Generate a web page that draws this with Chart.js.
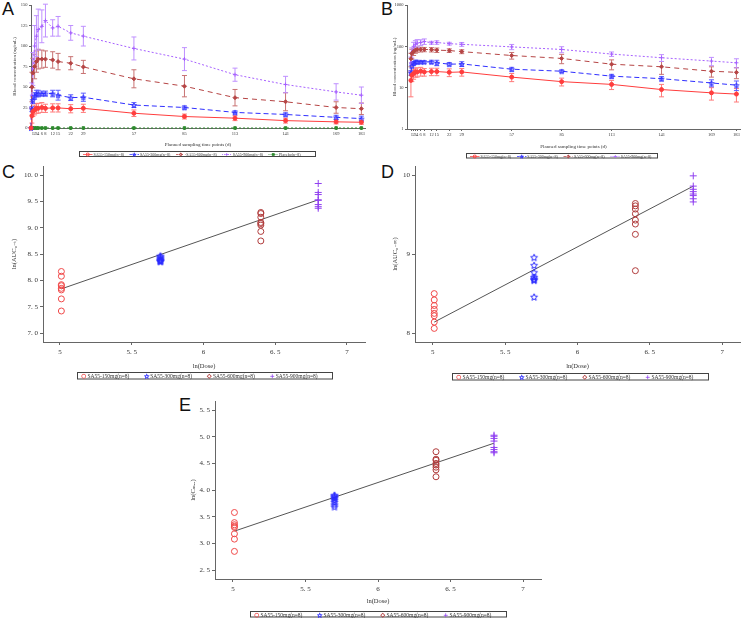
<!DOCTYPE html>
<html lang="en">
<head>
<meta charset="UTF-8">
<title>SA55 pharmacokinetics</title>
<style>
  body { margin: 0; background: #fff; width: 745px; height: 618px; position: relative; overflow: hidden; }
  canvas.chart { position: absolute; }
  .tag { position: absolute; font-family: 'Liberation Sans', Arial, sans-serif; font-size: 18px; line-height: 1; color: #111; }
  .legend {
    position: absolute; transform: scale(0.5); transform-origin: 0 0;
    border: 2px solid #444; box-sizing: border-box; display: grid; align-items: center;
    font-family: 'Liberation Serif', serif; color: #333; white-space: nowrap; padding-left: 6px;
  }
  .legend span { display: flex; align-items: center; gap: 2px; }
</style>
<script src="https://cdn.jsdelivr.net/npm/chart.js"></script>
</head>
<body>
<div class="tag" style="left:2px;top:0px">A</div>
<div class="tag" style="left:381px;top:0px">B</div>
<div class="tag" style="left:2px;top:163px">C</div>
<div class="tag" style="left:381px;top:163px">D</div>
<div class="tag" style="left:179px;top:396px">E</div>

<canvas class="chart" id="chartA" width="372" height="148" style="left:0;top:0"></canvas>
<canvas class="chart" id="chartB" width="373" height="150" style="left:372px;top:0"></canvas>
<canvas class="chart" id="chartC" width="372" height="210" style="left:0;top:160px"></canvas>
<canvas class="chart" id="chartD" width="373" height="210" style="left:372px;top:160px"></canvas>
<canvas class="chart" id="chartE" width="400" height="210" style="left:150px;top:395px"></canvas>

<div class="legend" id="legA" style="left:79px;top:151px;width:474px;height:12px;font-size:8px;grid-template-columns:repeat(5,1fr)"></div>
<div class="legend" id="legB" style="left:466px;top:153px;width:384px;height:11px;font-size:8px;grid-template-columns:repeat(4,1fr)"></div>
<div class="legend" id="legC" style="left:77px;top:372px;width:512px;height:15px;font-size:11px;grid-template-columns:repeat(4,1fr)"></div>
<div class="legend" id="legD" style="left:452px;top:373px;width:514px;height:15px;font-size:11px;grid-template-columns:repeat(4,1fr)"></div>
<div class="legend" id="legE" style="left:250px;top:611px;width:514px;height:13px;font-size:11px;grid-template-columns:repeat(4,1fr)"></div>

<script>
// ---- data: time courses (panels A, B) ----
const days = [0, 0.5, 1, 2, 3, 4, 6, 8, 12, 15, 22, 29, 57, 85, 113, 141, 169, 183];
const dayTicks = [1, 2, 3, 4, 6, 8, 12, 15, 22, 29, 57, 85, 113, 141, 169, 183];
const conc150 = [0, 15, 20, 22, 24, 24, 25, 24, 24.5, 24.5, 23.5, 24, 18, 14, 12, 9, 7.5, 7];
const sd150 = [0, 9, 6, 6, 6, 6, 6, 5, 5, 5, 5, 5, 4, 3, 3, 3, 2.5, 2.5];
const conc300 = [0, 23, 34, 39, 42, 42, 42, 42, 42, 40, 37, 37.5, 28, 25, 19, 16.5, 13, 11.5];
const sd300 = [0, 3, 4, 4, 4, 4, 3, 3, 4, 6, 3.5, 5, 3, 2, 2, 2, 2.5, 3];
const conc600 = [0, 50, 67, 75, 81, 84, 84, 84, 83, 81, 79, 74.5, 60, 51, 37, 32, 25, 23.5];
const sd600 = [0, 18, 18, 15, 13, 12, 11, 10, 10, 10, 8, 8, 11, 13, 10, 11, 7, 7];
const conc900 = [0, 40, 72, 100, 112, 120, 124, 131, 122, 124, 116, 112, 97, 84, 65, 53, 44, 40];
const sd900 = [0, 15, 20, 25, 25, 25, 20, 20, 10, 12, 9, 12, 14, 14, 8, 10, 10, 10];
const concPlacebo = [0, 0, 0, 0, 0, 0, 0, 0, 0, 0, 0, 0, 0, 0, 0, 0, 0, 0];
const linTicks = [0, 25, 50, 75, 100, 125, 150];
const logTicks = [1, 10, 100, 1000];

// ---- data: dose proportionality (panels C, D, E) ----
const lnDose = [5.01, 5.70, 6.40, 6.80];
const doseTicks = [5, 5.5, 6, 6.5, 7];
const aucT150 = [8.17, 8.08, 7.92, 7.90, 7.85, 7.82, 7.65, 7.42];
const aucT300 = [8.47, 8.45, 8.43, 8.41, 8.39, 8.38, 8.37, 8.36];
const aucT600 = [9.29, 9.27, 9.20, 9.10, 9.08, 9.05, 8.93, 8.75];
const aucT900 = [9.84, 9.67, 9.63, 9.53, 9.52, 9.44, 9.40, 9.37];
const aucInf150 = [8.50, 8.42, 8.35, 8.30, 8.25, 8.22, 8.14, 8.06];
const aucInf300 = [8.96, 8.86, 8.77, 8.71, 8.69, 8.68, 8.67, 8.46];
const aucInf600 = [9.64, 9.61, 9.57, 9.51, 9.43, 9.38, 9.25, 8.79];
const aucInf900 = [9.99, 9.86, 9.82, 9.79, 9.76, 9.74, 9.70, 9.66];
const cmax150 = [3.58, 3.39, 3.35, 3.32, 3.30, 3.18, 3.08, 2.85];
const cmax300 = [3.91, 3.89, 3.87, 3.85, 3.82, 3.78, 3.73, 3.69];
const cmax600 = [4.72, 4.58, 4.56, 4.50, 4.47, 4.43, 4.38, 4.25];
const cmax900 = [5.03, 5.01, 4.97, 4.92, 4.80, 4.76, 4.72, 4.70];
const fitAucT = [7.84, 9.53];     // regression line at lowest / highest dose
const fitAucInf = [8.14, 9.86];
const fitCmax = [3.23, 4.88];
const aucTTicks = [7, 7.5, 8, 8.5, 9, 9.5, 10];
const aucInfTicks = [8, 9, 10];
const cmaxTicks = [2.5, 3, 3.5, 4, 4.5, 5, 5.5];

const groupNames = ['SA55-150mg(n=8)', 'SA55-300mg(n=8)', 'SA55-600mg(n=8)', 'SA55-900mg(n=8)'];
const placeboName = 'Placebo(n=8)';

const serif = "'Liberation Serif', 'DejaVu Serif', serif";
Chart.defaults.font.family = serif;
Chart.defaults.color = '#333';
Chart.defaults.animation = false;

// outlined five-point star used as a marker
function starMark(color, r, lw) {
  const size = Math.ceil(r * 2 + 2);
  const c = document.createElement('canvas');
  c.width = size; c.height = size;
  const g = c.getContext('2d');
  g.strokeStyle = color; g.lineWidth = lw;
  g.beginPath();
  for (let k = 0; k < 10; k++) {
    const rad = k % 2 ? r * 0.45 : r;
    const a = -Math.PI / 2 + k * Math.PI / 5;
    const px = size / 2 + rad * Math.cos(a), py = size / 2 + 0.5 + rad * Math.sin(a);
    k ? g.lineTo(px, py) : g.moveTo(px, py);
  }
  g.closePath(); g.stroke();
  return c;
}

// colours / markers per dose group
const tcStyle = [
  {color: '#ff3d3d', err: '#ff7a7a', style: 'circle', dash: []},
  {color: '#2f2fff', err: '#6060ff', style: starMark('#2f2fff', 2.6, 1), dash: [5, 3]},
  {color: '#b54444', err: '#c87272', style: 'rectRot', dash: [5, 4]},
  {color: '#a660ff', err: '#bf90ff', style: 'cross', dash: [2, 2]},
];
const doseStyle = [
  {color: '#f04848', style: 'circle', r: 3, legend: 'circle'},
  {color: '#2a2aff', style: starMark('#2a2aff', 3.6, 1), r: 4, legend: starMark('#2a2aff', 4.5, 1.5)},
  {color: '#b03c3c', style: 'circle', r: 3, legend: 'rectRot'},
  {color: '#9040f0', style: 'cross', r: 3.5, legend: 'cross'},
];

// vertical error bars (mean ± SD) through the chart's own scales
const errorBars = {
  id: 'errorBars',
  beforeDatasetsDraw(chart) {
    const {ctx, scales: {x, y}} = chart;
    chart.data.datasets.forEach(ds => {
      if (!ds.sd) return;
      ctx.save();
      ctx.strokeStyle = ds.errColor;
      ctx.lineWidth = 1;
      ds.data.forEach((p, j) => {
        const e = ds.sd[j];
        if (p.y == null || !e) return;
        const lo = Math.max(p.y - e, y.min);
        const px = x.getPixelForValue(p.x);
        const top = y.getPixelForValue(p.y + e);
        const bot = y.getPixelForValue(lo);
        ctx.beginPath();
        ctx.moveTo(px, top); ctx.lineTo(px, bot);
        ctx.moveTo(px - 2.5, top); ctx.lineTo(px + 2.5, top);
        if (lo > y.min) { ctx.moveTo(px - 2.5, bot); ctx.lineTo(px + 2.5, bot); }
        ctx.stroke();
      });
      ctx.restore();
    });
  }
};

function fmt(decimals) {
  return v => decimals || !Number.isInteger(v) ? v.toFixed(1).replace('.', '. ') : String(v);
}

function axis(o) {
  return {
    type: o.type || 'linear', min: o.min, max: o.max,
    afterBuildTicks: s => { s.ticks = o.ticks.map(v => ({value: v})); },
    afterFit: s => { if (o.w != null) s.width = o.w; if (o.h != null) s.height = o.h; },
    border: {color: '#666', width: 1},
    grid: {drawOnChartArea: false, tickLength: o.tl || 3, color: '#666'},
    ticks: {font: {size: o.fs}, padding: o.tp || 2, autoSkip: false, maxRotation: 0, callback: o.fmt || (v => String(v))},
    title: {display: true, text: o.title, font: {size: o.tfs}, padding: {top: o.pad, bottom: 0}}
  };
}

// ---- panels A and B: concentration-time curves ----
function timeSets(withPlacebo, skipZero) {
  const vals = [conc150, conc300, conc600, conc900];
  const sds = [sd150, sd300, sd600, sd900];
  const sets = vals.map((v, i) => ({
    label: groupNames[i],
    data: days.map((d, j) => ({x: d, y: skipZero && v[j] <= 0 ? null : v[j]})),
    sd: sds[i], errColor: tcStyle[i].err,
    showLine: true, borderColor: tcStyle[i].color, backgroundColor: tcStyle[i].color,
    borderWidth: 1, borderDash: tcStyle[i].dash,
    pointStyle: tcStyle[i].style, pointRadius: 2, pointBorderWidth: 1, clip: false
  }));
  if (withPlacebo) {
    sets.push({
      label: placeboName,
      data: days.map((d, j) => ({x: d, y: concPlacebo[j]})),
      showLine: true, borderColor: '#2e8b2e', backgroundColor: '#2e8b2e', borderWidth: 1, borderDash: [2, 2],
      pointStyle: 'rect', pointRadius: 1.8, clip: false
    });
  }
  return sets;
}

new Chart(document.getElementById('chartA'), {
  type: 'scatter',
  data: {datasets: timeSets(true, false)},
  options: {
    responsive: false,
    layout: {padding: {left: 0, right: 7, top: 1, bottom: 0}},
    plugins: {legend: {display: false}, tooltip: {enabled: false}},
    scales: {
      x: axis({min: 0, max: 185, ticks: dayTicks, h: 20, fs: 4.5, tl: 2, tp: 1.5,
               title: 'Planned sampling time points (d)', tfs: 5, pad: 2}),
      y: axis({min: 0, max: 150, ticks: linTicks, w: 31, fs: 4.5, tl: 2, tp: 1.5,
               title: 'Blood concentration (ng/mL)', tfs: 5, pad: 12})
    }
  },
  plugins: [errorBars]
});

new Chart(document.getElementById('chartB'), {
  type: 'scatter',
  data: {datasets: timeSets(false, true)},
  options: {
    responsive: false,
    layout: {padding: {left: 0, right: 1, top: 2, bottom: 0}},
    plugins: {legend: {display: false}, tooltip: {enabled: false}},
    scales: {
      x: axis({min: -1.7, max: 185, ticks: dayTicks, h: 21, fs: 4.5, tl: 2, tp: 1.5,
               title: 'Planned sampling time points (d)', tfs: 5, pad: 1}),
      y: axis({type: 'logarithmic', min: 1, max: 1000, ticks: logTicks, w: 35, fs: 4.5, tl: 2, tp: 1.5,
               title: 'Blood concentration (ng/mL)', tfs: 5, pad: 20})
    }
  },
  plugins: [errorBars]
});

// ---- panels C, D, E: ln(parameter) vs ln(dose) ----
function dosePanel(id, groups, fit, o) {
  const datasets = groups.map((vals, i) => ({
    label: groupNames[i],
    data: vals.map(v => ({x: lnDose[i], y: v})),
    pointStyle: doseStyle[i].style, pointRadius: doseStyle[i].r,
    borderColor: doseStyle[i].color, backgroundColor: 'rgba(0,0,0,0)', borderWidth: 1, clip: false
  }));
  datasets.push({
    label: 'fit', data: [{x: lnDose[0], y: fit[0]}, {x: lnDose[3], y: fit[1]}],
    showLine: true, borderColor: '#555', borderWidth: 1, pointRadius: 0
  });
  new Chart(document.getElementById(id), {
    type: 'scatter',
    data: {datasets},
    options: {
      responsive: false,
      layout: {padding: o.padding},
      plugins: {legend: {display: false}, tooltip: {enabled: false}},
      scales: {
        x: axis({min: o.xmin, max: o.xmax, ticks: doseTicks, h: o.h, fs: 7, tp: 3, fmt: fmt(false),
                 title: 'ln(Dose)', tfs: 6.5, pad: o.xpad}),
        y: axis({min: o.ymin, max: o.ymax, ticks: o.yticks, w: o.w, fs: 7, tp: 2, fmt: fmt(o.dec),
                 title: o.ytitle, tfs: 6.5, pad: o.ypad})
      }
    }
  });
}

dosePanel('chartC', [aucT150, aucT300, aucT600, aucT900], fitAucT, {
  padding: {left: 0, right: 7, top: 3, bottom: 0}, w: 43, h: 28,
  xmin: 4.882, xmax: 7.126, ymin: 6.832, ymax: 10.168, yticks: aucTTicks, dec: true,
  ytitle: 'ln(AUC\u2080\u208B\u209C)', ypad: 10, xpad: 3.4
});
dosePanel('chartD', [aucInf150, aucInf300, aucInf600, aucInf900], fitAucInf, {
  padding: {left: 0, right: 1, top: 3, bottom: 0}, w: 43, h: 28,
  xmin: 4.877, xmax: 7.123, ymin: 7.888, ymax: 10.112, yticks: aucInfTicks, dec: false,
  ytitle: 'ln(AUC\u2080\u208B\u221E)', ypad: 19, xpad: 3.4
});
dosePanel('chartE', [cmax150, cmax300, cmax600, cmax900], fitCmax, {
  padding: {left: 0, right: 9, top: 5, bottom: 0}, w: 65, h: 26,
  xmin: 4.876, xmax: 7.124, ymin: 2.332, ymax: 5.668, yticks: cmaxTicks, dec: true,
  ytitle: 'ln(C\u2098\u2090\u2093)', ypad: 39, xpad: 1.4
});

// ---- boxed legends ----
function makeIcon(color, style, fill, dash, withLine, h) {
  const w = withLine ? Math.round(h * 2.4) : h;
  const c = document.createElement('canvas');
  c.width = w; c.height = h;
  const g = c.getContext('2d');
  g.strokeStyle = color;
  g.fillStyle = fill ? color : 'rgba(0,0,0,0)';
  g.lineWidth = 1.5;
  if (withLine) {
    g.setLineDash(dash);
    g.beginPath(); g.moveTo(0, h / 2); g.lineTo(w, h / 2); g.stroke();
    g.setLineDash([]);
  }
  Chart.helpers.drawPoint(g, {pointStyle: style, radius: h * 0.36, borderWidth: 1.5}, w / 2, h / 2);
  return c;
}

function buildLegend(id, items, h) {
  const box = document.getElementById(id);
  items.forEach(it => {
    const s = document.createElement('span');
    s.appendChild(makeIcon(it.color, it.style, it.fill, it.dash || [], it.line, h));
    s.appendChild(document.createTextNode(it.label));
    box.appendChild(s);
  });
}

const tcItems = groupNames.map((n, i) => ({label: n, color: tcStyle[i].color,
  style: i === 1 ? starMark(tcStyle[1].color, 3.5, 1.5) : tcStyle[i].style,
  fill: false, dash: tcStyle[i].dash, line: true}));
buildLegend('legA', tcItems.concat([{label: placeboName, color: '#2e8b2e', style: 'rect', fill: true, dash: [2, 2], line: true}]), 8);
buildLegend('legB', tcItems, 8);
const doseItems = groupNames.map((n, i) => ({label: n, color: doseStyle[i].color, style: doseStyle[i].legend, fill: false, line: false}));
buildLegend('legC', doseItems, 11);
buildLegend('legD', doseItems, 11);
buildLegend('legE', doseItems, 11);
</script>
</body>
</html>
